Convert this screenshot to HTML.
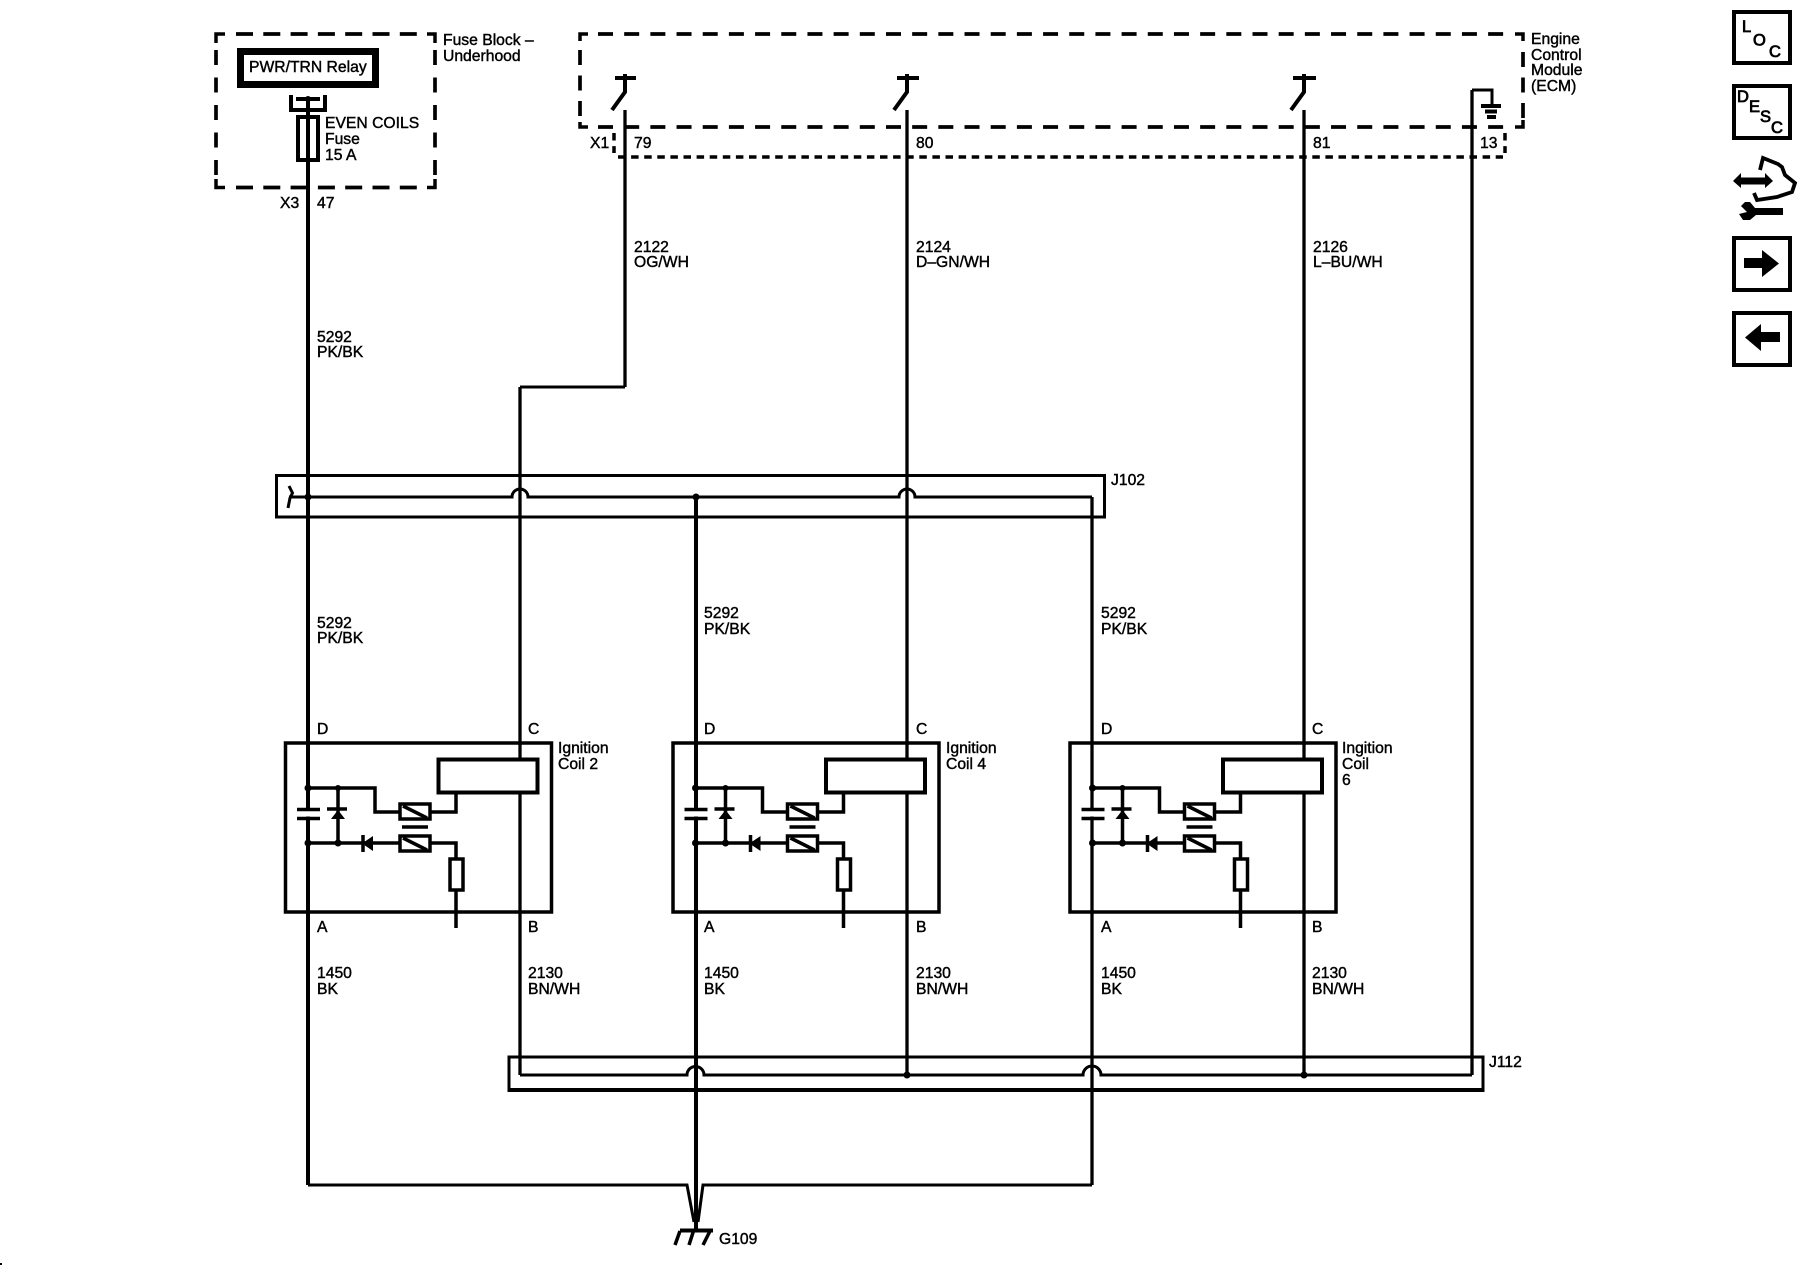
<!DOCTYPE html>
<html><head><meta charset="utf-8"><style>
html,body{margin:0;padding:0;background:#fff}
svg{display:block}
text{font-family:"Liberation Sans",Arial,sans-serif;font-size:15.7px;fill:#000;stroke:#000;stroke-width:.42px}
.i{font-size:16.5px;stroke-width:.8px}
.w{fill:none;stroke:#000;stroke-width:4}
.n{fill:none;stroke:#000;stroke-width:3.3}
.h{fill:none;stroke:#000;stroke-width:3}
.t{fill:none;stroke:#000;stroke-width:3.5}
.d{fill:none;stroke:#000;stroke-width:3.7;stroke-dasharray:17 10.300}
.e{fill:none;stroke:#000;stroke-width:3.7;stroke-dasharray:15 11.180}
.v{fill:none;stroke:#000;stroke-width:3.7;stroke-dasharray:15 10.500}
.s{fill:none;stroke:#000;stroke-width:3.5;stroke-dasharray:7.500 5.600}
</style></head><body>
<svg width="1800" height="1280" viewBox="0 0 1800 1280" xmlns="http://www.w3.org/2000/svg">
<rect width="1800" height="1280" fill="#fff"/>
<defs>
<g id="coil">
<rect class="t" x="285.500" y="743" width="266" height="169"/>
<rect x="305" y="811" width="6" height="5.500" fill="#fff"/>
<rect x="438.500" y="759.500" width="99" height="33" fill="#fff" stroke="#000" stroke-width="4"/>
<path class="t" d="M308 788H375V812H399M430 812H456V792"/>
<path class="t" d="M297 809.500H320M297 818.500H320"/>
<path class="t" d="M338 788V843M327 809H347"/>
<path d="M338 810L345 819H331Z"/>
<path class="t" d="M308 843H399M430 843H456V859M456 890V928"/>
<path class="t" d="M363 835V852"/>
<path d="M362 843.500L373 836V851Z"/>
<rect class="t" x="400" y="804" width="30" height="15" fill="#fff"/>
<rect class="t" x="400" y="836" width="30" height="15" fill="#fff"/>
<path class="t" d="M403 806L427 818M403 838L427 850M402 827H428"/>
<rect class="t" x="450" y="859" width="13" height="31" fill="#fff"/>
<circle cx="308" cy="788" r="3.500"/><circle cx="338" cy="788" r="3"/>
<circle cx="308" cy="843" r="3.500"/><circle cx="338" cy="843" r="3.500"/>
</g>
</defs>

<!-- Fuse block dashed box -->
<path class="d" d="M236 34H420M236 187.500H420"/>
<path fill="none" stroke="#000" stroke-width="3.700" stroke-dasharray="15 12.500" d="M216 50V176M435 50V176"/>
<path class="t" stroke-width="4" d="M225 34H216V43M216 179V187.500H225M427 34H435V43M435 179V187.500H427"/>
<rect x="240.500" y="51.500" width="135" height="33" fill="#fff" stroke="#000" stroke-width="7"/>
<text x="249" y="72">PWR/TRN Relay</text>
<path class="w" d="M291 95V110H325V95M296 99H320"/>
<circle cx="308" cy="99" r="3"/>
<rect class="w" x="298" y="117" width="20" height="43"/>
<text x="443" y="45">Fuse Block –</text>
<text x="443" y="61">Underhood</text>
<text x="325" y="128">EVEN COILS</text>
<text x="325" y="144">Fuse</text>
<text x="325" y="160">15 A</text>
<text x="280" y="208">X3</text>
<text x="317" y="208">47</text>

<!-- ECM dashed box -->
<path class="e" d="M598 34H1506M598 127H1506"/>
<path class="v" d="M580 50V118M1523 52V118"/>
<path class="t" stroke-width="4" d="M588 34H580V41M580 122V127H588M1515 34H1523V41M1523 120V127H1515"/>
<path class="s" d="M618 157H1503M614 133V153M1505 133V153"/>
<text x="1531" y="44">Engine</text>
<text x="1531" y="60">Control</text>
<text x="1531" y="75">Module</text>
<text x="1531" y="91">(ECM)</text>
<path class="w" d="M615 78H636M625 74V92L612 110"/>
<path class="w" d="M897 78H919M907 74V92L894 110"/>
<path class="w" d="M1293 78H1316M1304 74V92L1291 110"/>
<text x="590" y="148">X1</text>
<text x="634" y="148">79</text>
<text x="916" y="148">80</text>
<text x="1313" y="148">81</text>
<text x="1480" y="148">13</text>
<path class="w" d="M1481 106H1501M1485 111.500H1497M1487 117H1496"/>

<!-- Wires -->
<path class="w" d="M308 99V1185"/>
<path class="w" d="M696 497V1222"/>
<path class="w" stroke-width="4.500" d="M696 1218V1230"/>
<path class="h" d="M308 1185H687L694 1222M1092 1185H703L698 1222"/>
<path class="n" d="M1092 497V1185"/>
<path class="n" d="M625 110V387M520 387V1075M1472 1075V90"/>
<path class="h" d="M625 387H520M520 1075H687A8.500 8.500 0 0 1 704 1075H1083A8.500 8.500 0 0 1 1101 1075H1472M1472 90H1492V106"/>
<path class="n" d="M907 110V1075M1304 110V1075"/>
<path class="h" d="M289 497H512A8 8 0 0 1 528 497H899A8 8 0 0 1 915 497H1092"/>
<path fill="none" stroke="#000" stroke-width="3" d="M289 486L292.500 493L290 498L288 508"/>
<circle cx="308" cy="497" r="3.500"/><circle cx="696" cy="497" r="3.500"/>
<circle cx="907" cy="1075" r="3.500"/><circle cx="1304" cy="1075" r="3.500"/>

<!-- Harness boxes -->
<rect class="h" x="276.500" y="475.500" width="828" height="41.500"/>
<rect class="h" x="509" y="1057" width="974" height="33"/>
<path class="w" d="M507.500 1090H1484.500"/>
<text x="1111" y="485">J102</text>
<text x="1489" y="1067">J112</text>

<!-- Coils -->
<use href="#coil"/>
<use href="#coil" transform="translate(387.500 0)"/>
<use href="#coil" transform="translate(784.500 0)"/>

<!-- Wire labels -->
<text x="317" y="342">5292</text><text x="317" y="357">PK/BK</text>
<text x="634" y="252">2122</text><text x="634" y="267">OG/WH</text>
<text x="916" y="252">2124</text><text x="916" y="267">D–GN/WH</text>
<text x="1313" y="252">2126</text><text x="1313" y="267">L–BU/WH</text>
<text x="317" y="628">5292</text><text x="317" y="643">PK/BK</text>
<text x="704" y="618">5292</text><text x="704" y="634">PK/BK</text>
<text x="1101" y="618">5292</text><text x="1101" y="634">PK/BK</text>

<text x="317" y="734">D</text><text x="528" y="734">C</text>
<text x="317" y="932">A</text><text x="528" y="932">B</text>
<text x="317" y="978">1450</text><text x="317" y="994">BK</text>
<text x="528" y="978">2130</text><text x="528" y="994">BN/WH</text>
<text x="558" y="753">Ignition</text><text x="558" y="769">Coil 2</text>

<text x="704" y="734">D</text><text x="916" y="734">C</text>
<text x="704" y="932">A</text><text x="916" y="932">B</text>
<text x="704" y="978">1450</text><text x="704" y="994">BK</text>
<text x="916" y="978">2130</text><text x="916" y="994">BN/WH</text>
<text x="946" y="753">Ignition</text><text x="946" y="769">Coil 4</text>

<text x="1101" y="734">D</text><text x="1312" y="734">C</text>
<text x="1101" y="932">A</text><text x="1312" y="932">B</text>
<text x="1101" y="978">1450</text><text x="1101" y="994">BK</text>
<text x="1312" y="978">2130</text><text x="1312" y="994">BN/WH</text>
<text x="1342" y="753">Ingition</text><text x="1342" y="769">Coil</text><text x="1342" y="785">6</text>

<!-- Ground -->
<path class="w" d="M680 1230.500H713"/>
<path class="t" d="M680 1231L675 1245M693.500 1231L689 1245M710 1231L703 1245"/>
<text x="719" y="1244">G109</text>
<rect x="0" y="1263" width="2" height="2"/>

<!-- Side icons -->
<rect x="1734" y="12" width="56" height="51" fill="none" stroke="#000" stroke-width="4"/>
<text class="i" x="1742" y="32">L</text><text class="i" x="1753" y="45.500">O</text><text class="i" x="1769" y="57">C</text>
<rect x="1734" y="86" width="56" height="52" fill="none" stroke="#000" stroke-width="4"/>
<text class="i" x="1737" y="102">D</text><text class="i" x="1749" y="112">E</text><text class="i" x="1760" y="122">S</text><text class="i" x="1771" y="133">C</text>
<path d="M1733 181L1741 173V177.500H1765V173L1773 181L1765 188V184.500H1741V188Z"/>
<path fill="none" stroke="#000" stroke-width="3.800" d="M1760 170L1763 158L1778 164L1782 167L1785 175L1795 183L1792 192L1777 197L1757 200L1754 193"/>
<path d="M1783 208V215H1756L1750 220H1743L1739 214L1747 212L1741 206L1745 202H1750L1755 208Z"/>
<rect x="1734" y="238" width="56" height="52" fill="none" stroke="#000" stroke-width="4"/>
<path d="M1744 258H1762V250L1779 263.500L1762 277V268H1744Z"/>
<rect x="1734" y="313" width="56" height="52" fill="none" stroke="#000" stroke-width="4"/>
<path d="M1780 332H1761V324L1745 337.500L1761 351V342H1780Z"/>
</svg>
</body></html>
